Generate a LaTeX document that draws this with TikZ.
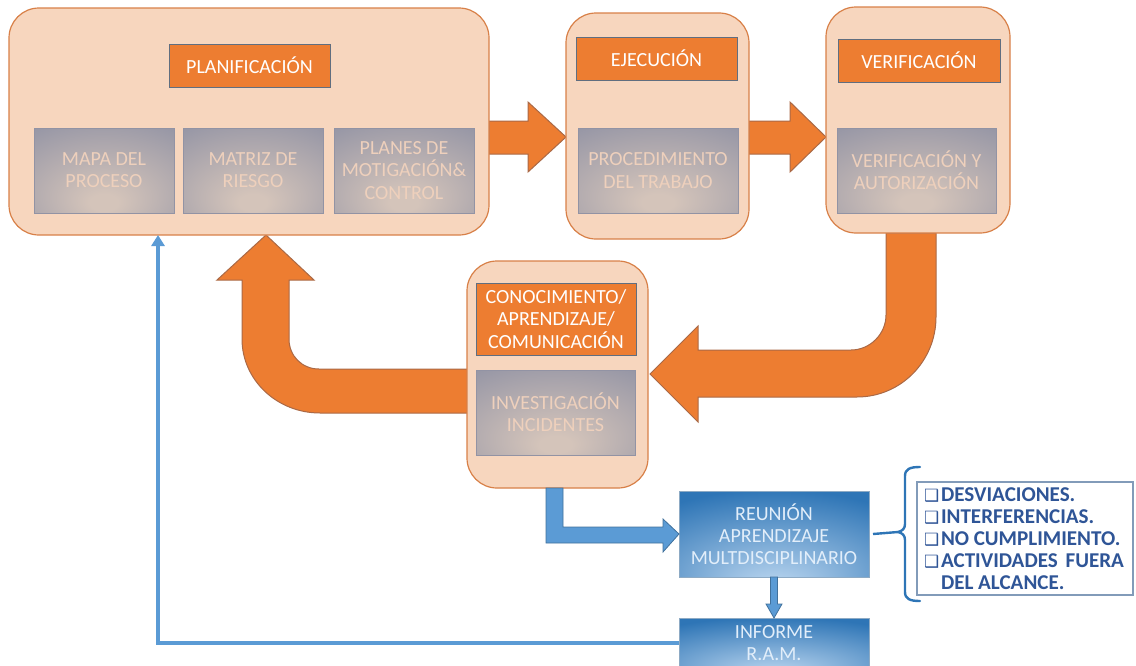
\documentclass[tikz,border=0pt]{standalone}
\usepackage{fontspec}
\setmainfont{Carlito}
\newfontfamily\symfont{DejaVu Sans}
\usetikzlibrary{calc,arrows.meta}

% one drawing unit
\newdimen\px \px=0.02cm

% palette
\definecolor{peach}{RGB}{247,214,190}
\definecolor{peachline}{RGB}{216,128,72}
\definecolor{orangeA}{RGB}{237,125,49}
\definecolor{hdrline}{RGB}{96,110,128}
\definecolor{arrowline}{RGB}{170,105,70}
\definecolor{subin}{RGB}{212,196,186}
\definecolor{subout}{RGB}{146,147,164}
\definecolor{subtext}{RGB}{238,208,188}
\definecolor{blueA}{RGB}{91,155,213}
\definecolor{blueline}{RGB}{65,113,156}
\definecolor{bluein}{RGB}{178,208,236}
\definecolor{blueout}{RGB}{46,117,182}
\definecolor{bluetext}{RGB}{226,238,250}
\definecolor{listtext}{RGB}{47,85,151}
\definecolor{listline}{RGB}{130,155,185}

% soft radial fills, brightest near the lower middle
\pgfdeclareradialshading{subshade}{\pgfpoint{0bp}{-20bp}}{color(0bp)=(subin); color(5bp)=(subin); color(46bp)=(subout); color(90bp)=(subout)}
\pgfdeclareradialshading{blueshade}{\pgfpoint{0bp}{-32bp}}{color(0bp)=(bluein); color(4bp)=(bluein); color(44bp)=(blueout); color(100bp)=(blueout)}

\tikzset{
  txt/.style={font=\fontsize{11.4}{12.6}\selectfont, align=center},
  container/.style={draw=peachline, line width=1.2\px, fill=peach, rounded corners=30\px,
    inner sep=0pt, outer sep=0pt},
  hdr/.style={txt, draw=hdrline, line width=1\px, fill=orangeA, text=white,
    inner sep=0pt, outer sep=0pt},
  subbox/.style={txt, shading=subshade, draw=subout, line width=0.6\px, text=subtext,
    inner sep=0pt, outer sep=0pt},
  bluebox/.style={txt, shading=blueshade, draw=blueline!60, line width=0.8\px, text=bluetext,
    inner sep=0pt, outer sep=0pt},
  blk/.style={fill=orangeA, draw=arrowline, line width=1\px, line join=miter},
  blueblk/.style={fill=blueA, draw=blueline, line width=0.8\px, line join=miter},
  bluethin/.style={draw=blueA, line width=4\px, -{Triangle[width=0.26cm,length=0.22cm]}},
  listbox/.style={draw=listline, line width=1.2\px, fill=white, inner xsep=7\px, inner ysep=0pt,
    text width=202\px, align=left, text=listtext,
    font=\bfseries\fontsize{12}{12.5}\selectfont},
  bracket/.style={draw=blueout, line width=2.4\px, line cap=round, line join=round}
}
\newcommand\chk{\makebox[17\px][l]{\raisebox{0.3\px}{\symfont\mdseries\fontsize{9.6}{9.6}\selectfont ❑}}}

\begin{document}
\begin{tikzpicture}[x=0.02cm, y=-0.02cm]
\useasboundingbox (0,0) rectangle (1136,666);
\clip (0,0) rectangle (1136,666);

% ---- orange block arrows ----
\draw[blk] (489,121) -- (528,121) -- (528,102) -- (566,137) -- (528,172) -- (528,154) -- (489,154) -- cycle;
\draw[blk] (749,121) -- (790,121) -- (790,102) -- (826,137) -- (790,172) -- (790,154) -- (749,154) -- cycle;
% from verification back to the lessons box
\draw[blk] (886,233) -- (886,315) .. controls (886,334) and (870,350) .. (851,350)
  -- (698,350) -- (698,326) -- (650,374) -- (698,422) -- (698,397) -- (857,397)
  .. controls (901,397) and (936,361) .. (936,317) -- (936,233) -- cycle;
% from the lessons box up to planning
\draw[blk] (470,369) -- (319,369) .. controls (302,369) and (289,356) .. (289,339)
  -- (289,280) -- (314,280) -- (266,235) -- (217,280) -- (242,280) -- (242,339)
  .. controls (242,380) and (277,413) .. (320,413) -- (470,413) -- cycle;

% ---- planning ----
\node[container, minimum width=480\px, minimum height=227\px] (plan) at (249,121.5) {};
\node[hdr, minimum width=161\px, minimum height=43\px] (planhdr) at (249.5,65.5) {PLANIFICACIÓN};
\node[subbox, minimum width=140\px, minimum height=85\px] (mapa) at (104,170.5) {MAPA DEL\\PROCESO};
\node[subbox, minimum width=140\px, minimum height=85\px] (matriz) at (253,170.5) {MATRIZ DE\\RIESGO};
\node[subbox, minimum width=140\px, minimum height=85\px] (planes) at (404,170.5) {PLANES DE\\MOTIGACIÓN\&\\CONTROL};

% ---- execution ----
\node[container, minimum width=183\px, minimum height=226\px] (ejec) at (657.5,126) {};
\node[hdr, minimum width=161\px, minimum height=43\px] (ejechdr) at (656.5,58.5) {EJECUCIÓN};
\node[subbox, minimum width=160\px, minimum height=85\px] (proc) at (658,170.5) {PROCEDIMIENTO\\DEL TRABAJO};

% ---- verification ----
\node[container, minimum width=184\px, minimum height=226\px] (verif) at (918,120) {};
\node[hdr, minimum width=162\px, minimum height=43\px] (verifhdr) at (919,60.5) {VERIFICACIÓN};
\node[subbox, minimum width=159\px, minimum height=85\px] (verifsub) at (916.5,170.5) {VERIFICACIÓN Y\\AUTORIZACIÓN};

% ---- lessons learned ----
\node[container, minimum width=181\px, minimum height=227\px] (con) at (557.5,374.5) {};
\node[hdr, minimum width=160\px, minimum height=72\px] (conhdr) at (556,319) {CONOCIMIENTO/\\APRENDIZAJE/\\COMUNICACIÓN};
\node[subbox, minimum width=159\px, minimum height=85\px] (inv) at (555.5,412.5) {INVESTIGACIÓN\\INCIDENTES};

% ---- meeting and report ----
\node[bluebox, minimum width=190\px, minimum height=86\px] (reu) at (774,534) {REUNIÓN\\APRENDIZAJE\\MULTDISCIPLINARIO};
\node[bluebox, minimum width=190\px, minimum height=50\px] (inf) at (774,643) {INFORME\\R.A.M.};

% ---- topics list ----
\node[listbox, minimum width=216\px, minimum height=113\px] (lst) at (1025,538.5)
  {\spaceskip=0.22em\relax
   \chk DESVIACIONES.\\
   \chk INTERFERENCIAS.\\
   \chk NO CUMPLIMIENTO.\\
   \chk\makebox[183\px][s]{ACTIVIDADES\hfill FUERA}\\
   \hspace*{17\px}DEL ALCANCE.};

% bracket gathering the topics
\coordinate (brtip) at (898,532);
\draw[bracket] (920,467) .. controls (910,467) and (905,469) .. (905,476) -- (905,524)
  .. controls (905,529) and (902,531) .. (brtip)
  .. controls (902,533) and (905,535) .. (905,540) -- (905,592)
  .. controls (905,599) and (910,601) .. (920,601);
\draw[bracket, line cap=butt] ([xshift=4\px]reu.east) -- (brtip);

% ---- blue connectors ----
\draw[blueblk] (546,488) -- (546,543) -- (663,543) -- (663,552) -- (reu.west) -- (663,519)
  -- (663,527) -- (563,527) -- (563,488) -- cycle;
\draw[blueblk] ([xshift=-3.5\px]reu.south) -- ++(0,27) -- ++(-4.5,0) -- (inf.north)
  -- (782,604) -- (777.5,604) -- ([xshift=3.5\px]reu.south) -- cycle;
\coordinate (fbk) at (158,0 |- plan.south);
\draw[bluethin] (inf.west) -| (fbk);
\end{tikzpicture}
\end{document}
